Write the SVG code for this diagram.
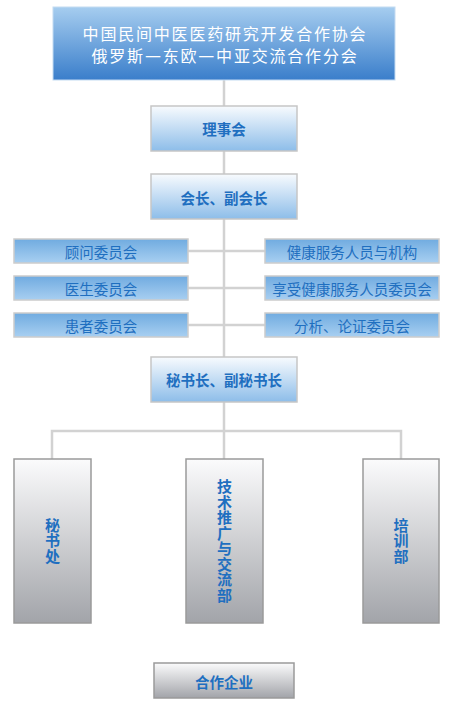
<svg xmlns="http://www.w3.org/2000/svg" width="452" height="705" viewBox="0 0 452 705">
<defs>
<linearGradient id="gTop" x1="0" y1="0" x2="0" y2="1"><stop offset="0" stop-color="#a6cdef"/><stop offset="1" stop-color="#3a7ecb"/></linearGradient>
<linearGradient id="gLvl" x1="0" y1="0" x2="0" y2="1"><stop offset="0" stop-color="#f8fbfe"/><stop offset="1" stop-color="#8dbde9"/></linearGradient>
<linearGradient id="gCom" x1="0" y1="0" x2="0" y2="1"><stop offset="0" stop-color="#70abe0"/><stop offset="1" stop-color="#a8cff1"/></linearGradient>
<linearGradient id="gGray" x1="0" y1="0" x2="0" y2="1"><stop offset="0" stop-color="#fbfbfc"/><stop offset="1" stop-color="#a2a4a9"/></linearGradient>
</defs>
<style>
.top{fill:url(#gTop);stroke:#c4dbf2;stroke-width:1}
.lvl{fill:url(#gLvl);stroke:#c6c6c6;stroke-width:1.5}
.com{fill:url(#gCom);stroke:#cccccc;stroke-width:1.5}
.gray{fill:url(#gGray);stroke:#9a9a9a;stroke-width:1.5}
text{font-family:"Noto Sans CJK SC","Noto Sans",sans-serif;text-anchor:middle;dominant-baseline:central}
.tt{fill:#ffffff;font-size:16px;letter-spacing:1.8px}
.fw{font-family:"DejaVu Sans",sans-serif}
.bt{fill:#1f6fc0;font-size:14.5px;font-weight:bold}
.ct{fill:#1f6fc0;font-size:14.5px}
.vt{fill:#1f6fc0;font-size:15px;font-weight:bold;writing-mode:vertical-rl;text-orientation:upright;letter-spacing:0.5px}
.conn{stroke:#d2d2d2;stroke-width:2.5;fill:none}
</style>
<g id="connectors">
<line class="conn" x1="224" y1="80" x2="224" y2="357"/>
<line class="conn" x1="188" y1="251" x2="265" y2="251"/>
<line class="conn" x1="188" y1="288" x2="265" y2="288"/>
<line class="conn" x1="188" y1="325" x2="265" y2="325"/>
<line class="conn" x1="224" y1="402" x2="224" y2="459"/>
<polyline class="conn" points="52,459 52,431 401,431 401,459"/>
</g>
<g id="n-top"><rect class="top" x="53" y="7" width="342" height="73"/><text class="tt" x="225" y="33">中国民间中医医药研究开发合作协会</text><text class="tt" x="225" y="55">俄罗斯<tspan class="fw">—</tspan>东欧<tspan class="fw">—</tspan>中亚交流合作分会</text></g>
<g id="n-lishi"><rect class="lvl" x="151" y="106" width="146" height="45"/><text class="bt" x="224" y="128">理事会</text></g>
<g id="n-huizhang"><rect class="lvl" x="151" y="174" width="146" height="45"/><text class="bt" x="224" y="197">会长、副会长</text></g>
<g id="n-guwen"><rect class="com" x="14" y="239" width="174" height="24"/><text class="ct" x="101" y="251">顾问委员会</text></g>
<g id="n-yisheng"><rect class="com" x="14" y="276" width="174" height="24"/><text class="ct" x="101" y="288">医生委员会</text></g>
<g id="n-huanzhe"><rect class="com" x="14" y="313" width="174" height="24"/><text class="ct" x="101" y="325">患者委员会</text></g>
<g id="n-jiankang"><rect class="com" x="265" y="239" width="174" height="24"/><text class="ct" x="352" y="251">健康服务人员与机构</text></g>
<g id="n-xiangshou"><rect class="com" x="265" y="276" width="174" height="24"/><text class="ct" x="352" y="288">享受健康服务人员委员会</text></g>
<g id="n-fenxi"><rect class="com" x="265" y="313" width="174" height="24"/><text class="ct" x="352" y="325">分析、论证委员会</text></g>
<g id="n-mishuzhang"><rect class="lvl" x="151" y="357" width="146" height="45"/><text class="bt" x="224" y="379">秘书长、副秘书长</text></g>
<g id="n-mishuchu"><rect class="gray" x="14" y="459" width="77" height="164"/><text class="vt" x="52.5" y="541">秘书处</text></g>
<g id="n-jishu"><rect class="gray" x="186" y="459" width="77" height="164"/><text class="vt" x="224.5" y="541">技术推广与交流部</text></g>
<g id="n-peixun"><rect class="gray" x="363" y="459" width="76" height="164"/><text class="vt" x="401" y="541">培训部</text></g>
<g id="n-hezuo"><rect class="gray" x="154" y="663" width="140" height="35"/><text class="bt" x="224" y="681">合作企业</text></g>
</svg>
